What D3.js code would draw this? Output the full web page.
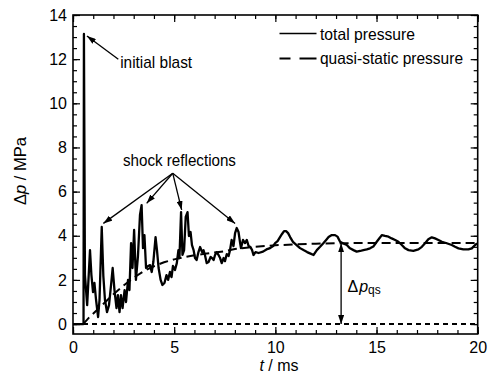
<!DOCTYPE html>
<html>
<head>
<meta charset="utf-8">
<script src="https://d3js.org/d3.v7.min.js"></script>
<style>
  body { margin: 0; background: #fff; }
  svg { display: block; font-family: "Liberation Sans", Arial, sans-serif; }
  .tick text { font-size: 16px; fill: #000; }
  .tick line { stroke: #000; stroke-width: 1.2; }
</style>
</head>
<body>
<script>
// Data (t in ms, dp in MPa)
var totalT = [0, 0.52, 0.54, 0.59, 0.70, 0.84, 0.91, 0.99, 1.06, 1.14, 1.24, 1.31, 1.42, 1.50, 1.58, 1.68,
  1.78, 1.88, 1.96, 2.05, 2.15, 2.22, 2.30, 2.37, 2.45, 2.55, 2.62, 2.72, 2.79, 2.87, 2.94, 3.02,
  3.11, 3.21, 3.31, 3.39, 3.46, 3.53, 3.61, 3.71, 3.81, 3.89, 3.97, 4.08, 4.15, 4.23, 4.33, 4.42,
  4.52, 4.62, 4.70, 4.79, 4.87, 4.94, 5.04, 5.13, 5.21, 5.26, 5.34, 5.41, 5.49, 5.57, 5.66, 5.73,
  5.81, 5.88, 5.96, 6.03, 6.11, 6.20, 6.28, 6.38, 6.45, 6.52, 6.61, 6.70, 6.80, 6.87, 6.95, 7.02,
  7.10, 7.19, 7.27, 7.35, 7.44, 7.51, 7.60, 7.69, 7.76, 7.84, 7.93, 8.01, 8.09, 8.18, 8.26, 8.30,
  8.40, 8.50, 8.59, 8.68, 8.77, 8.85, 8.92, 9.02, 9.17, 9.39, 9.56, 9.74, 9.89, 9.99, 10.11, 10.23,
  10.33, 10.43, 10.53, 10.63, 10.73, 10.87, 11.05, 11.22, 11.39, 11.57, 11.74, 11.89, 12.05, 12.21,
  12.36, 12.51, 12.63, 12.79, 12.95, 13.07, 13.20, 13.36, 13.53, 13.69, 13.86, 14.02, 14.19, 14.35,
  14.52, 14.68, 14.84, 15.01, 15.18, 15.26, 15.42, 15.59, 15.75, 15.92, 16.08, 16.25, 16.41, 16.58,
  16.82, 17.07, 17.24, 17.40, 17.56, 17.73, 17.89, 18.06, 18.23, 18.47, 18.72, 18.88, 19.05, 19.29,
  19.54, 19.71, 19.87, 19.97];
var totalP = [0, 0, 13.14, 2.22, 0.86, 3.35, 2.22, 1.45, 1.86, 1.09, 0.32, 1.09, 4.40, 2.17, 1.09, 0.54,
  0.86, 1.77, 2.54, 1.54, 0.72, 1.31, 0.54, 1.31, 0.72, 1.54, 1.00, 2.00, 1.54, 3.67, 2.54, 4.26,
  2.00, 3.08, 4.94, 5.39, 3.44, 4.03, 2.54, 2.63, 2.67, 2.36, 2.81, 3.94, 3.35, 2.54, 2.00, 1.77,
  1.86, 2.22, 2.00, 2.36, 2.13, 2.63, 2.45, 2.76, 3.35, 2.99, 5.07, 3.13, 3.35, 4.85, 5.07, 3.99,
  4.17, 3.58, 3.35, 2.99, 2.90, 3.26, 3.49, 3.26, 3.35, 3.13, 2.76, 2.81, 3.04, 2.99, 2.90, 3.13,
  3.26, 3.13, 2.99, 2.76, 2.99, 2.85, 3.17, 3.08, 3.35, 3.81, 3.53, 4.12, 4.35, 4.17, 3.67, 3.44,
  3.81, 3.67, 3.81, 3.53, 3.49, 3.35, 3.13, 3.26, 3.22, 3.28, 3.38, 3.44, 3.53, 3.67, 3.76, 3.94,
  4.08, 4.21, 4.21, 4.12, 3.94, 3.72, 3.58, 3.44, 3.35, 3.26, 3.19, 3.13, 3.35, 3.50,
  3.65, 3.81, 3.94, 4.03, 4.03, 3.96, 3.73, 3.65, 3.58, 3.43, 3.35, 3.28, 3.31, 3.35,
  3.38, 3.43, 3.51, 3.73, 3.93, 4.03, 3.99, 3.96, 3.88, 3.81, 3.73, 3.58, 3.43, 3.35,
  3.32, 3.38, 3.50, 3.66, 3.84, 3.93, 3.88, 3.81, 3.73, 3.66, 3.58, 3.50, 3.43, 3.38,
  3.38, 3.43, 3.58, 3.66];

var qsT = [0.5, 0.8, 1.2, 1.6, 2, 2.5, 3, 3.5, 4, 4.5, 5, 5.5, 6, 6.5, 7, 7.5, 8, 9, 10, 11, 12, 13, 14, 16, 18, 20];
var qsP = [0, 0.3, 0.65, 1.0, 1.35, 1.75, 2.1, 2.4, 2.62, 2.8, 2.93, 3.03, 3.12, 3.18, 3.24, 3.3, 3.4, 3.5, 3.57, 3.61, 3.64, 3.66, 3.67, 3.67, 3.67, 3.67];

var xMajor = [0, 5, 10, 15, 20];
var yMajor = [0, 2, 4, 6, 8, 10, 12, 14];

// Annotation anchors in data units
var blastTip = [0.69, 13.05], blastTail = [2.24, 12.0];
var shockApex = [4.93, 6.83];
var shockTips = [[1.5, 4.56], [3.64, 5.47], [5.37, 5.17], [8.01, 4.56]];
var qsArrowT = 13.25, qsLevel = 3.66;

// Chart Params
var svgWidth = 492;
var svgHeight = 375;
var margin = { top: 15, right: 14.3, bottom: 41, left: 73 };
var width = svgWidth - margin.left - margin.right;
var height = svgHeight - margin.top - margin.bottom;

var svg = d3.select("body")
  .append("svg")
  .attr("width", svgWidth)
  .attr("height", svgHeight);

var defs = svg.append("defs");
defs.append("marker")
  .attr("id", "head")
  .attr("markerUnits", "userSpaceOnUse")
  .attr("viewBox", "0 0 9 6")
  .attr("refX", 9).attr("refY", 3)
  .attr("markerWidth", 9).attr("markerHeight", 6)
  .attr("orient", "auto-start-reverse")
  .append("path")
  .attr("d", "M0,0 L9,3 L0,6 Z")
  .attr("fill", "#000");

var chartGroup = svg.append("g")
  .attr("transform", `translate(${margin.left}, ${margin.top})`);

var xScale = d3.scaleLinear().domain([0, 20]).range([0, width]);
var yScale = d3.scaleLinear().domain([-0.45, 14]).range([height, 0]);

// minor + major ticks, pointing inward on all four sides
var xMinor = d3.range(0, 21, 1);
var yMinor = d3.range(0, 14.01, 0.5);

function addAxis(axis, tr) {
  var g = chartGroup.append("g").attr("transform", tr).call(axis);
  g.select(".domain").remove();
  return g;
}

addAxis(d3.axisBottom(xScale).tickValues(xMinor).tickSize(-4).tickFormat(""), `translate(0, ${height})`);
addAxis(d3.axisBottom(xScale).tickValues(xMajor).tickSize(-7).tickPadding(7.5).tickFormat(d3.format("d")), `translate(0, ${height})`);
addAxis(d3.axisTop(xScale).tickValues(xMinor).tickSize(-4).tickFormat(""), "translate(0,0)");
addAxis(d3.axisTop(xScale).tickValues(xMajor).tickSize(-7).tickFormat(""), "translate(0,0)");

addAxis(d3.axisLeft(yScale).tickValues(yMinor).tickSize(-4).tickFormat(""), "translate(0,0)");
addAxis(d3.axisLeft(yScale).tickValues(yMajor).tickSize(-7).tickPadding(6).tickFormat(d3.format("d")), "translate(0,0)");
addAxis(d3.axisRight(yScale).tickValues(yMinor).tickSize(-4).tickFormat(""), `translate(${width}, 0)`);
addAxis(d3.axisRight(yScale).tickValues(yMajor).tickSize(-7).tickFormat(""), `translate(${width}, 0)`);

// zero reference
chartGroup.append("line")
  .attr("x1", xScale(0.5)).attr("x2", xScale(20))
  .attr("y1", yScale(0)).attr("y2", yScale(0))
  .attr("stroke", "#000")
  .attr("stroke-width", 1.2)
  .attr("shape-rendering", "crispEdges")
  .attr("stroke-dasharray", "5,4");

// quasi-static pressure
var qsData = qsT.map((t, i) => ({ t: t, p: qsP[i] }));
var line = d3.line().x(d => xScale(d.t)).y(d => yScale(d.p));

chartGroup.append("path")
  .datum(qsData)
  .attr("d", line)
  .attr("fill", "none")
  .attr("stroke", "#000")
  .attr("stroke-width", 2)
  .attr("stroke-dasharray", "9,5");

// total pressure
var totalData = totalT.map((t, i) => ({ t: t, p: totalP[i] }));
chartGroup.append("path")
  .datum(totalData)
  .attr("d", line)
  .attr("fill", "none")
  .attr("stroke", "#000")
  .attr("stroke-width", 2.3)
  .attr("stroke-linejoin", "round");

// frame
chartGroup.append("rect")
  .attr("width", width)
  .attr("height", height)
  .attr("fill", "none")
  .attr("stroke", "#000")
  .attr("stroke-width", 1.6);

// annotations
function arrow(from, to) {
  chartGroup.append("line")
    .attr("x1", xScale(from[0])).attr("y1", yScale(from[1]))
    .attr("x2", xScale(to[0])).attr("y2", yScale(to[1]))
    .attr("stroke", "#000")
    .attr("stroke-width", 1.3)
    .attr("marker-end", "url(#head)");
}

arrow(blastTail, blastTip);
shockTips.forEach(d => arrow(shockApex, d));

chartGroup.append("text")
  .attr("x", xScale(2.33)).attr("y", yScale(11.62))
  .attr("font-size", 17)
  .attr("textLength", 72).attr("lengthAdjust", "spacingAndGlyphs")
  .text("initial blast");

chartGroup.append("text")
  .attr("x", xScale(2.47)).attr("y", yScale(7.16))
  .attr("font-size", 17)
  .attr("textLength", 113).attr("lengthAdjust", "spacingAndGlyphs")
  .text("shock reflections");

chartGroup.append("line")
  .attr("x1", xScale(qsArrowT)).attr("x2", xScale(qsArrowT))
  .attr("y1", yScale(qsLevel)).attr("y2", yScale(0))
  .attr("stroke", "#000")
  .attr("stroke-width", 1.3)
  .attr("marker-start", "url(#head)")
  .attr("marker-end", "url(#head)");

var qsLabel = svg.append("text")
  .attr("x", 347.5).attr("y", 291.5)
  .attr("font-size", 16);
qsLabel.append("tspan").text("Δ");
qsLabel.append("tspan").attr("font-style", "italic").attr("dx", 1).text("p");
qsLabel.append("tspan").attr("font-size", 12).attr("dy", 2).text("qs");

// legend
svg.append("line")
  .attr("x1", 279.5).attr("x2", 316.5)
  .attr("y1", 33.5).attr("y2", 33.5)
  .attr("stroke", "#000").attr("stroke-width", 1.5);
svg.append("line")
  .attr("x1", 279.5).attr("x2", 316.5)
  .attr("y1", 58.5).attr("y2", 58.5)
  .attr("stroke", "#000").attr("stroke-width", 2.2)
  .attr("stroke-dasharray", "11,9,17,0");

svg.append("text")
  .attr("x", 320).attr("y", 39.5)
  .attr("font-size", 16.5)
  .attr("textLength", 95).attr("lengthAdjust", "spacingAndGlyphs")
  .text("total pressure");
svg.append("text")
  .attr("x", 320).attr("y", 63.5)
  .attr("font-size", 16.5)
  .attr("textLength", 143).attr("lengthAdjust", "spacingAndGlyphs")
  .text("quasi-static pressure");

// axis titles
var yTitle = svg.append("text")
  .attr("transform", "translate(26, 171) rotate(-90)")
  .attr("text-anchor", "middle")
  .attr("font-size", 16.5);
yTitle.append("tspan").text("Δ");
yTitle.append("tspan").attr("font-style", "italic").text("p");
yTitle.append("tspan").text(" / MPa");

var xTitle = svg.append("text")
  .attr("x", 279).attr("y", 371)
  .attr("text-anchor", "middle")
  .attr("font-size", 16);
xTitle.append("tspan").attr("font-style", "italic").text("t");
xTitle.append("tspan").text(" / ms");
</script>
</body>
</html>
